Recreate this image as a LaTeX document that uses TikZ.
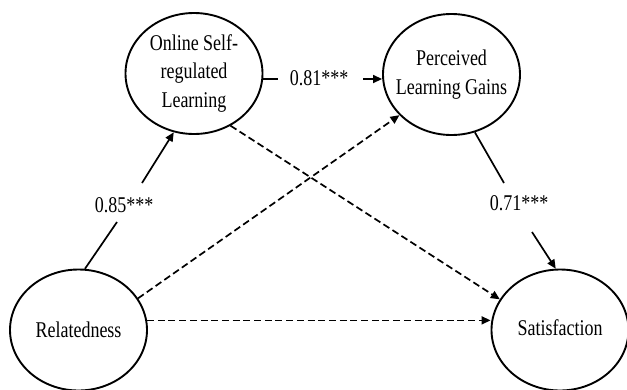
\documentclass[tikz,border=0pt]{standalone}
\usepackage{fontspec}
\setmainfont{Liberation Serif}[FakeStretch=0.8]
\usetikzlibrary{shapes.geometric,arrows.meta,calc}
\begin{document}
\begin{tikzpicture}[x=1pt,y=-1pt,
  latent/.style={draw, ellipse, line width=1.9pt, minimum width=137pt, minimum height=121pt, inner sep=0pt},
  txt/.style={inner sep=0pt, align=center, font=\fontsize{22.5}{28.5}\selectfont},
  plainline/.style={line width=1.7pt},
  pathline/.style={line width=1.7pt, -{Triangle[length=9pt,width=8pt]}},
  nsline/.style={pathline, dash pattern=on 7pt off 3.7pt}]
\useasboundingbox (0,0) rectangle (627,389);
% latent variables
\node[latent] (osrl) at (194,73.5) {};
\node[txt] (osrlt) at (osrl) {Online Self-\\regulated\\Learning};
\node[latent] (plg) at (451.5,74.5) {};
\node[txt] (plgt) at (plg) {Perceived\\Learning Gains};
\node[latent] (rel) at (78.5,330) {};
\node[txt] (relt) at (rel) {Relatedness};
\node[latent] (sat) at (560,330) {};
\node[txt] (satt) at ($(sat)+(0,-2)$) {Satisfaction};
% coefficient labels
\node[txt] (c85) at (124,205) {0.85***};
\node[txt] (c81) at (319,78) {0.81***};
\node[txt] (c71) at (519,203) {0.71***};
\coordinate (a85) at (117,222);
\coordinate (b85) at (142,183);
\coordinate (a81) at (278,79);
\coordinate (b81) at (363,79);
\coordinate (a71) at (504,183);
\coordinate (b71) at (532,232);
% significant paths
\draw[plainline] (rel.84) -- (a85);
\draw[pathline] (b85) -- (osrl.251);
\draw[plainline] (osrl.east |- a81) -- (a81);
\draw[pathline] (b81) -- (plg.west |- b81);
\draw[plainline] (plg.-68.8) -- (a71);
\draw[pathline] (b71) -- (sat.94.7);
% non-significant paths
\draw[nsline] (rel.28.2) -- (plg.218.2);
\draw[nsline] (osrl.-55) -- (sat.153.1);
\draw[nsline] (rel.8.4) -- (rel.8.4 -| sat.west);
\end{tikzpicture}
\end{document}
